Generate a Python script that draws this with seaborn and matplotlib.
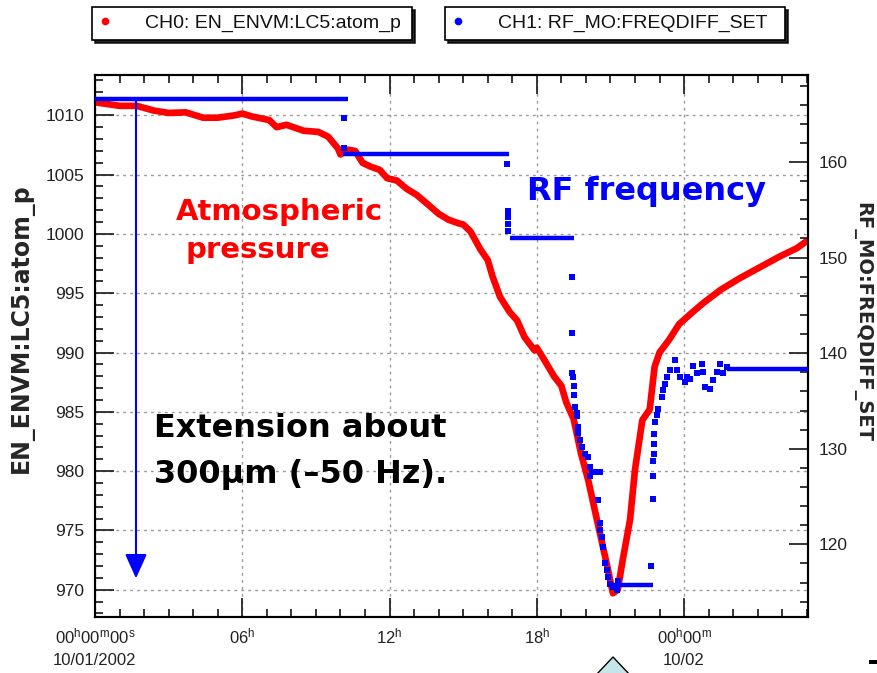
import numpy as np
import pandas as pd
import matplotlib
matplotlib.use("Agg")
import matplotlib.pyplot as plt
import seaborn as sns
from matplotlib.ticker import MultipleLocator
from matplotlib.lines import Line2D
from matplotlib.patches import Polygon, Rectangle

# ---------------- data ----------------
# CH0: atmospheric pressure (hours since 10/01/2002 00:00, hPa)
pressure_hours = [0.0, 1.0, 1.7, 2.4, 3.0, 3.7, 4.4, 5.0, 5.7, 6.0, 6.4, 7.1, 7.4, 7.8,
                  8.5, 9.1, 9.5, 9.9, 10.0, 10.3, 10.6, 10.9, 11.2, 11.6, 11.9, 12.3,
                  12.7, 13.1, 13.5, 14.0, 14.4, 14.8, 15.0, 15.3, 15.7, 16.0, 16.2,
                  16.5, 16.9, 17.2, 17.5, 17.9, 18.0, 18.3, 18.7, 19.0, 19.2, 19.5,
                  19.8, 20.1, 20.3, 20.6, 20.9, 21.1, 21.3, 21.5, 21.8, 22.0, 22.2,
                  22.3, 22.6, 22.8, 23.0, 23.4, 23.8, 24.4, 24.8, 25.5, 26.3, 27.1,
                  27.9, 28.6, 29.0]
pressure_hpa = [1011.1, 1010.8, 1010.8, 1010.4, 1010.2, 1010.25, 1009.8, 1009.8, 1010.0,
                1010.15, 1009.9, 1009.6, 1009.0, 1009.2, 1008.7, 1008.6, 1008.2, 1007.2,
                1006.7, 1007.1, 1007.0, 1006.0, 1005.7, 1005.4, 1004.7, 1004.5, 1003.8,
                1003.3, 1002.6, 1001.7, 1001.2, 1000.9, 1000.8, 1000.2, 998.7, 997.8,
                996.4, 994.7, 993.4, 992.7, 991.3, 990.2, 990.4, 989.4, 988.0, 987.2,
                985.8, 984.4, 981.5, 979.2, 977.3, 974.5, 971.7, 969.7, 970.0, 972.5,
                975.9, 980.1, 982.9, 984.3, 985.2, 988.8, 990.0, 991.1, 992.4, 993.5,
                994.2, 995.3, 996.3, 997.2, 998.1, 998.8, 999.4]

# CH1: RF frequency set value - flat steps (start hour, end hour, value)
step_start = [0.0, 10.1, 16.9, 21.1, 25.75]
step_end = [10.3, 16.85, 19.5, 22.75, 29.05]
step_value = [166.6, 160.8, 152.0, 115.7, 138.3]

# CH1: individual samples between the steps
rf_hours = [10.13, 10.13, 16.80, 16.84, 16.84, 16.84, 16.84, 19.45, 19.45, 19.45, 19.49,
            19.53, 19.53, 19.57, 19.65, 19.65, 19.69, 19.69, 19.77, 19.85, 19.98, 20.10,
            20.18, 20.26, 20.38, 20.50, 20.59, 20.18, 20.50, 20.59, 20.59, 20.67, 20.71,
            20.79, 20.87, 20.91, 20.99, 21.11, 21.28, 21.32, 22.66, 22.74, 22.74, 22.74,
            22.78, 22.78, 22.78, 22.82, 22.90, 22.94, 23.10, 23.15, 23.23, 23.31, 23.43,
            23.64, 23.72, 23.84, 24.04, 24.13, 24.25, 24.37, 24.53, 24.74, 24.78, 24.86,
            25.07, 25.18, 25.35, 25.47, 25.59, 25.75]
rf_values = [164.6, 161.5, 159.8, 154.9, 154.2, 153.5, 152.8, 148.0, 142.1, 137.9, 137.5,
             136.6, 135.6, 134.4, 133.7, 133.4, 132.3, 131.6, 130.9, 130.2, 129.5, 129.1,
             128.1, 127.6, 127.6, 127.6, 127.6, 127.1, 124.6, 122.2, 121.5, 120.8, 119.7,
             118.0, 117.3, 116.6, 115.9, 115.5, 115.2, 116.2, 117.7, 124.7, 127.2, 128.7,
             129.5, 130.5, 131.5, 132.8, 133.5, 134.2, 135.4, 136.1, 136.8, 137.5, 138.2,
             139.3, 138.2, 137.5, 137.0, 137.5, 137.3, 138.7, 137.9, 138.9, 138.0, 136.5,
             136.3, 137.2, 138.0, 138.9, 137.9, 138.6]

x_tick_pos = [0, 6, 12, 18, 24]
x_tick_labels = [r"00$^{\rm h}$00$^{\rm m}$00$^{\rm s}$" + "\n10/01/2002",
                 r"06$^{\rm h}$", r"12$^{\rm h}$", r"18$^{\rm h}$",
                 r"00$^{\rm h}$00$^{\rm m}$" + "\n10/02"]
left_ticks = [970, 975, 980, 985, 990, 995, 1000, 1005, 1010]
right_ticks = [120, 130, 140, 150, 160]
legend_labels = ["CH0: EN_ENVM:LC5:atom_p", "CH1: RF_MO:FREQDIFF_SET"]

# ---------------- style ----------------
sns.set_style("white")
plt.rcParams["font.family"] = ["Liberation Sans", "DejaVu Sans"]
plt.rcParams["mathtext.fontset"] = "custom"
plt.rcParams["mathtext.rm"] = "Liberation Sans"
plt.rcParams["mathtext.it"] = "Liberation Sans"

W, H = 877, 673
def fx(x):
    return x / W
def fy(y):
    return 1 - y / H

RED = "#ff0000"
BLUE = "#0000ff"

fig = plt.figure(figsize=(8.77, 6.73), dpi=100)
ax = fig.add_axes([fx(95), fy(617), (808 - 95) / W, (617 - 75) / H])
ax2 = ax.twinx()

pdf = pd.DataFrame({"hours": pressure_hours, "hPa": pressure_hpa})
sns.lineplot(data=pdf, x="hours", y="hPa", ax=ax, color=RED, lw=4.8, zorder=3)

ax2.hlines(step_value, step_start, step_end, color=BLUE, lw=3.2, zorder=4)
rdf = pd.DataFrame({"hours": rf_hours, "val": rf_values})
sns.scatterplot(data=rdf, x="hours", y="val", ax=ax2, marker="s", s=16,
                color=BLUE, linewidth=0, zorder=5)

ax.set_xlim(0, 29.05)
ax.set_ylim(967.7, 1013.4)
ax2.set_ylim(112.4, 169.1)

ax.set_xticks(x_tick_pos, x_tick_labels)
ax.xaxis.set_minor_locator(MultipleLocator(1))
ax.set_yticks(left_ticks)
ax.yaxis.set_minor_locator(MultipleLocator(1))
ax2.set_yticks(right_ticks)
ax2.yaxis.set_minor_locator(MultipleLocator(2))

tick_color = "#222222"
ax.tick_params(axis="x", which="both", direction="in", top=True, bottom=True,
               labelsize=12, labelcolor=tick_color, pad=7, width=1.3)
ax.tick_params(axis="y", which="both", direction="in", left=True, right=False,
               labelsize=12.5, labelcolor=tick_color, pad=8, width=1.3)
ax.tick_params(which="major", length=14)
ax.tick_params(which="minor", length=5.5)
ax2.tick_params(axis="y", which="both", direction="in", right=True, left=False,
                labelsize=12.5, labelcolor=tick_color, pad=8, width=1.3)
ax2.tick_params(which="major", length=14)
ax2.tick_params(which="minor", length=5.5)
for lab in ax.get_xticklabels():
    lab.set_linespacing(1.5)

for a in (ax, ax2):
    for sp in a.spines.values():
        sp.set_color("black")
        sp.set_linewidth(1.5)

ax.grid(True, which="major", axis="both", color="#9a9a9a", ls=(0, (2, 3)), lw=1)
ax.set_axisbelow(True)

ax.set_xlabel("")
ax.set_ylabel("EN_ENVM:LC5:atom_p", fontsize=17, fontweight="bold",
              family="DejaVu Sans", va="center")
ax.yaxis.set_label_coords((22 - 95) / 713, (617 - 328) / 542)
ax2.set_ylabel("RF_MO:FREQDIFF_SET", fontsize=14, fontweight="bold",
               family="DejaVu Sans", rotation=-90, va="center")
ax2.yaxis.set_label_coords((862 - 95) / 713, (617 - 322) / 542)

# arrow showing the extension
ax2.annotate("", xy=(1.67, 116.44), xytext=(1.67, 166.6),
             arrowprops=dict(arrowstyle="-|>,head_length=1.0,head_width=0.45",
                             color=BLUE, lw=1.5, shrinkA=0, shrinkB=0,
                             mutation_scale=15), zorder=6)

# annotations
bold = dict(family="DejaVu Sans", fontweight="bold", va="baseline", ha="left")
fig.text(fx(176), fy(220), "Atmospheric", color=RED, fontsize=21, **bold)
fig.text(fx(185), fy(258), "pressure", color=RED, fontsize=21, **bold)
fig.text(fx(527), fy(200), "RF frequency", color=BLUE, fontsize=23, **bold)
fig.text(fx(154), fy(437), "Extension about", color="black", fontsize=23, **bold)
fig.text(fx(154), fy(483), "300\u03bcm (\u201350 Hz).", color="black", fontsize=23, **bold)

# legends (two boxed entries at the top)
handles = [Line2D([], [], ls="none", marker="o", ms=4.5, color=RED),
           Line2D([], [], ls="none", marker="o", ms=4.5, color=BLUE)]
boxes = [(92, 412), (445, 785)]
for hnd, lab, (x0, x1) in zip(handles, legend_labels, boxes):
    leg = fig.legend([hnd], [lab], loc="center",
                     bbox_to_anchor=(fx(x0), fy(41), (x1 - x0) / W, 35 / H),
                     mode="expand", borderaxespad=0, borderpad=0.4,
                     handlelength=0.5, handletextpad=1.85, fontsize=14,
                     frameon=True, fancybox=False, edgecolor="black",
                     framealpha=1, shadow={"color": "black", "alpha": 0.85})
    leg.get_frame().set_linewidth(1.2)
    for t in leg.get_texts():
        t.set_color("#111111")

# small slide decorations at the bottom edge
fig.add_artist(Polygon([(fx(596), fy(675)), (fx(613), fy(657)), (fx(630), fy(675))],
                       closed=True, transform=fig.transFigure,
                       facecolor="#c4e6e8", edgecolor="black", lw=1))
fig.add_artist(Rectangle((fx(869), fy(664)), 8 / W, 4 / H, transform=fig.transFigure,
                         facecolor="black", edgecolor="none"))

fig.savefig("out.png", dpi=100)
